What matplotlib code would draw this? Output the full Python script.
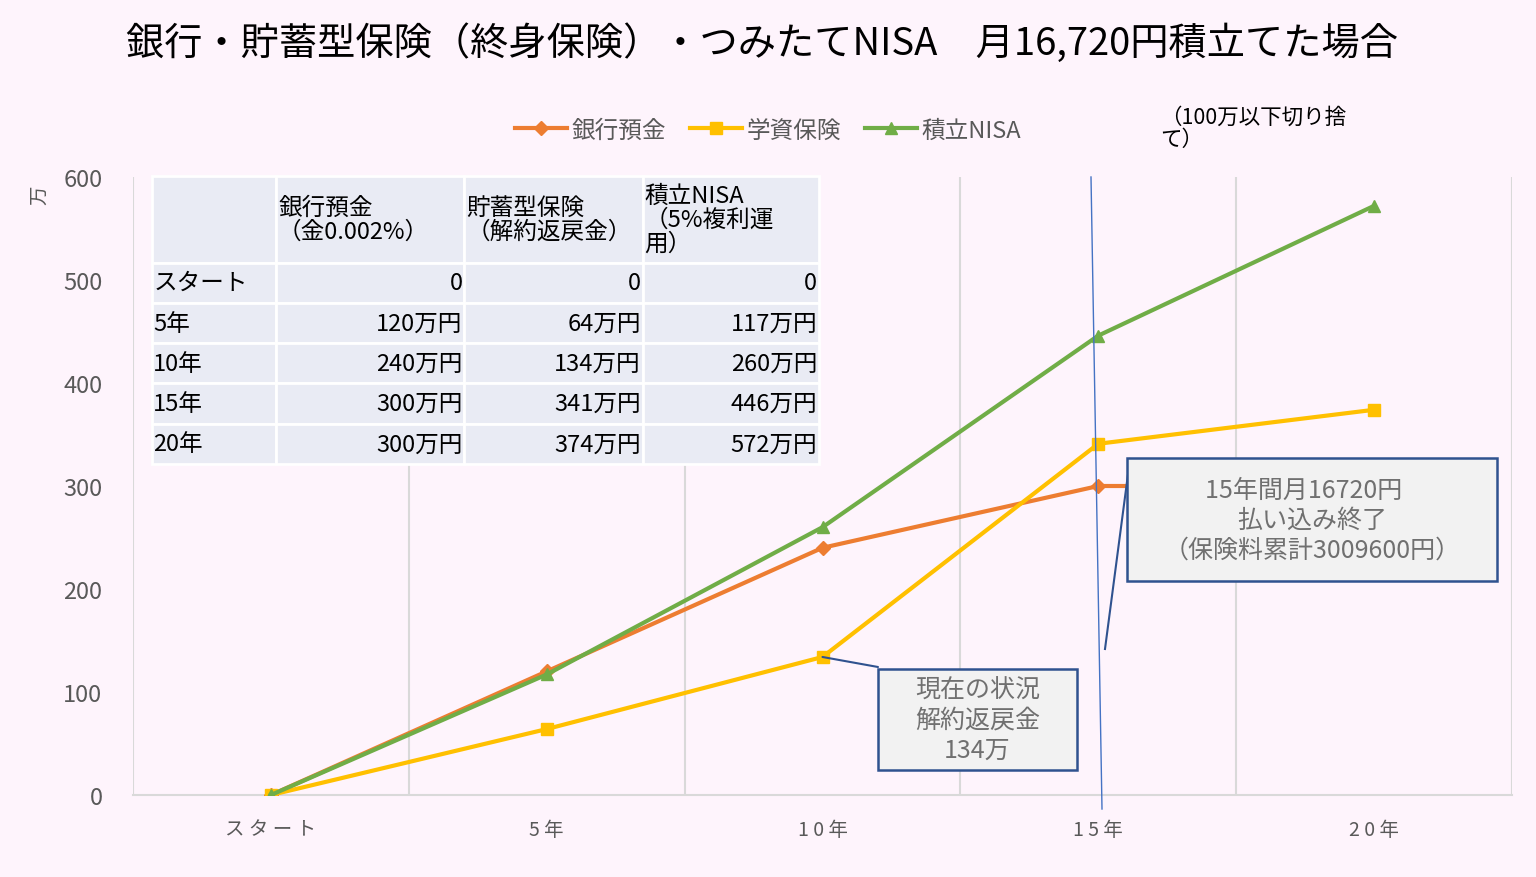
import numpy as np
import matplotlib
matplotlib.use("Agg")
import matplotlib.pyplot as plt
from matplotlib.lines import Line2D
from matplotlib.patches import Rectangle

plt.rcParams['font.family'] = ['Noto Sans CJK JP', 'DejaVu Sans']

# ================= DATA =================
categories = ["スタート", "5年", "10年", "15年", "20年"]
tick_labels = ["ス タ ー ト", "5 年", "1 0 年", "1 5 年", "2 0 年"]
bank = [0, 120, 240, 300, 300]
gakushi = [0, 64, 134, 341, 374]
nisa = [0, 117, 260, 446, 572]
series_names = ["銀行預金", "学資保険", "積立NISA"]

table_header = ["", "銀行預金\n（金0.002%）", "貯蓄型保険\n（解約返戻金）", "積立NISA\n（5%複利運\n用）"]
table_rows = [
    ["スタート", "0", "0", "0"],
    ["5年", "120万円", "64万円", "117万円"],
    ["10年", "240万円", "134万円", "260万円"],
    ["15年", "300万円", "341万円", "446万円"],
    ["20年", "300万円", "374万円", "572万円"],
]

title = "銀行・貯蓄型保険（終身保険）・つみたてNISA　月16,720円積立てた場合"

# ================= STYLE =================
BG = "#FEF4FC"
GRAY = "#595959"
ORANGE = "#ED7D31"
YELLOW = "#FFC000"
GREEN = "#70AD47"
BOXEDGE = "#2F528F"
W, H = 1536, 878

def fx(px):
    return px / W

def fy(py):
    return 1 - py / H

fig = plt.figure(figsize=(15.36, 8.78), dpi=100, facecolor=BG)
ax = fig.add_axes([fx(133), fy(796), 1379 / W, 618 / H])
ax.set_facecolor(BG)

x = np.arange(len(categories))
ax.plot(x, bank, color=ORANGE, lw=3, marker="D", ms=7, label=series_names[0], zorder=3)
ax.plot(x, gakushi, color=YELLOW, lw=3, marker="s", ms=8, label=series_names[1], zorder=3)
ax.plot(x, nisa, color=GREEN, lw=3, marker="^", ms=9, label=series_names[2], zorder=3)

ax.set_xlim(-0.5, len(categories) - 0.5)
ax.set_ylim(0, 600)
ax.set_yticks(np.arange(0, 601, 100))
ax.set_xticks(x)
ax.set_xticklabels(tick_labels)
ax.set_xticks(np.arange(-0.5, len(categories)), minor=True)
ax.grid(axis="x", which="minor", color="#D9D9D9", lw=1.5)
ax.tick_params(axis="both", which="both", length=0)
ax.tick_params(axis="y", labelsize=17, labelcolor=GRAY, pad=22)
ax.tick_params(axis="x", labelsize=14, labelcolor=GRAY, pad=17)
for s in ["top", "right", "left"]:
    ax.spines[s].set_visible(False)
ax.spines["bottom"].set_color("#D9D9D9")
ax.spines["bottom"].set_linewidth(1.5)

fig.text(fx(40), fy(195), "万", rotation=90, fontsize=14, color=GRAY,
         ha="center", va="center")

fig.text(fx(762), fy(44), title, fontsize=27.5, ha="center", va="center", color="black")

handles = [
    Line2D([], [], color=ORANGE, lw=3, marker="D", ms=7),
    Line2D([], [], color=YELLOW, lw=3, marker="s", ms=8),
    Line2D([], [], color=GREEN, lw=3, marker="^", ms=9),
]
leg = fig.legend(handles, series_names, loc="center", bbox_to_anchor=(fx(768), fy(131)),
                 ncol=3, frameon=False, fontsize=17, handlelength=2.2, handletextpad=0.2,
                 columnspacing=1.0)
for t in leg.get_texts():
    t.set_color(GRAY)

fig.text(fx(1160), fy(129), "（100万以下切り捨\nて）", fontsize=15.5, ha="left",
         va="center", color="black", linespacing=1.0)

# ================= TABLE =================
tab = ax.table(cellText=table_rows, colLabels=table_header,
               colWidths=[124, 188, 178, 176],
               bbox=[(152 - 133) / 1379, (796 - 465) / 618, (819 - 152) / 1379, (465 - 177) / 618],
               zorder=5)
tab.auto_set_font_size(False)
for (r, c), cell in tab.get_celld().items():
    cell.set_facecolor("#E9EBF4")
    cell.set_edgecolor("white")
    cell.set_linewidth(2)
    cell.set_height(86 if r == 0 else 40)
    cell.PAD = 0.01
    txt = cell.get_text()
    txt.set_fontsize(17)
    txt.set_color("black")
    txt.set_linespacing(1.05)
    ha = "left" if (r == 0 or c == 0) else "right"
    cell._loc = ha
    txt.set_horizontalalignment(ha)

# ================= ANNOTATIONS =================
# thin reference line
fig.add_artist(Line2D([fx(1091), fx(1102)], [fy(178), fy(810)], color="#4472C4", lw=1,
                      transform=fig.transFigure, zorder=4))

def note_box(x0, y0, x1, y1, text):
    fig.add_artist(Rectangle((fx(x0), fy(y1)), fx(x1) - fx(x0), fy(y0) - fy(y1),
                             transform=fig.transFigure, fc="#F2F2F2", ec=BOXEDGE, lw=1.8,
                             zorder=6))
    fig.text(fx((x0 + x1) / 2), fy((y0 + y1) / 2), text, ha="center", va="center",
             fontsize=18, color="#707070", linespacing=1.2, zorder=7)

# box 1: leader from 10年 point
ax.annotate("", xy=(2, gakushi[2]), xycoords="data",
            xytext=(878, H - 668), textcoords="figure pixels",
            arrowprops=dict(arrowstyle="-", color=BOXEDGE, lw=1.5, shrinkA=0, shrinkB=0),
            zorder=6)
note_box(878, 670, 1077, 771, "現在の状況\n解約返戻金\n134万")

# box 2 with detached leader line
fig.add_artist(Line2D([fx(1130), fx(1105)], [fy(460), fy(650)], color=BOXEDGE, lw=1.5,
                      transform=fig.transFigure, zorder=6))
note_box(1127, 459, 1497, 582, "15年間月16720円   \n払い込み終了\n（保険料累計3009600円）")

fig.savefig("out.png", dpi=100, facecolor=BG)
